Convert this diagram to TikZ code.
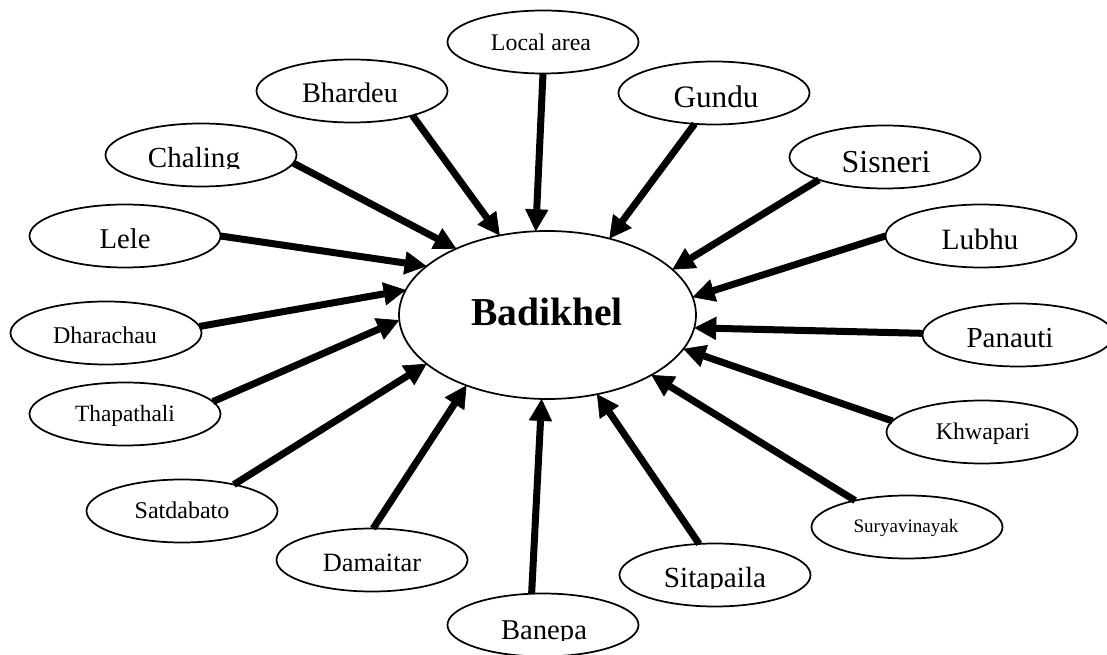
\documentclass[tikz,border=0pt]{standalone}
\usepackage{fontspec}
\setmainfont{Liberation Serif}
\usetikzlibrary{shapes.geometric,arrows.meta}

\newcommand{\fs}[1]{\fontsize{#1}{#1}\selectfont}

\begin{document}
\begin{tikzpicture}[x=0.75pt,y=-0.75pt,
  place/.style={ellipse, draw, line width=1.3pt, minimum width=143.25pt,
    minimum height=47.25pt, inner sep=0pt, outer sep=0pt},
  hub/.style={ellipse, draw, line width=1.3pt, minimum width=222.75pt,
    minimum height=126pt, inner sep=0pt, outer sep=0pt},
  lbl/.style={anchor=base, inner sep=0pt, outer sep=0pt},
  flow/.style={line width=5.25pt,
    -{Triangle[length=16.5pt,width=17.5pt,line width=0.5pt]}}
]
\useasboundingbox (0,0) rectangle (1107,655);
\clip (0,0) rectangle (1107,655);

% central place
\node[hub] (hub) at (547.5,315) {};
\node[lbl, font=\fs{29.7}\bfseries] (hub-t) at (547,326) {Badikhel};

% surrounding places
\node[place] (la) at (543,42)  {};
\node[place] (bh) at (352,91)  {};
\node[place] (gu) at (714,93)  {};
\node[place] (ch) at (201,155) {};
\node[place] (si) at (885,157) {};
\node[place] (le) at (125,236) {};
\node[place] (lu) at (981,236) {};
\node[place] (dh) at (106,333) {};
\node[place] (pa) at (1018,335) {};
\node[place] (th) at (125,414) {};
\node[place] (kh) at (982,432) {};
\node[place] (sa) at (182,511) {};
\node[place] (su) at (907,527) {};
\node[place] (da) at (372,560) {};
\node[place] (sp) at (715,575) {};
\node[place] (ba) at (543,625) {};

% place names
\node[lbl, font=\fs{17.9}] (la-t) at (541,51)  {Local area};
\node[lbl, font=\fs{21.2}] (bh-t) at (350,103) {Bhardeu};
\node[lbl, font=\fs{23.4}] (gu-t) at (716,108) {Gundu};
\begin{scope}
  \clip (120,130) rectangle (280,169);
  \node[lbl, font=\fs{21.8}] (ch-t) at (194,168) {Chaling};
\end{scope}
\node[lbl, font=\fs{24}]   (si-t) at (886,173) {Sisneri};
\node[lbl, font=\fs{21.5}] (le-t) at (125,249) {Lele};
\node[lbl, font=\fs{22.1}] (lu-t) at (980,250) {Lubhu};
\node[lbl, font=\fs{18}]   (dh-t) at (105,344) {Dharachau};
\node[lbl, font=\fs{21.75}] (pa-t) at (1010,348) {Panauti};
\node[lbl, font=\fs{17.5}] (th-t) at (125,422) {Thapathali};
\node[lbl, font=\fs{17.9}] (kh-t) at (983,440) {Khwapari};
\node[lbl, font=\fs{18}]   (sa-t) at (182,519) {Satdabato};
\node[lbl, font=\fs{14.3}] (su-t) at (906,533) {Suryavinayak};
\node[lbl, font=\fs{19.8}] (da-t) at (372,571) {Damaitar};
\begin{scope}
  \clip (640,550) rectangle (790,589);
  \node[lbl, font=\fs{21.9}] (sp-t) at (715,588) {Sitapaila};
\end{scope}
\begin{scope}
  \clip (470,600) rectangle (620,640);
  \node[lbl, font=\fs{21.5}] (ba-t) at (544,639) {Banepa};
\end{scope}

% flows into the centre
\draw[flow] (la.270) -- (hub.98);
\draw[flow] (bh.338) -- (hub.121);
\draw[flow] (ch.355) -- (hub.144);
\draw[flow] (le.0)   -- (hub.158);
\draw[flow] (dh.4)   -- (hub.170);
\draw[flow] (th.8)   -- (hub.182);
\draw[flow] (sa.27)  -- (hub.202);
\draw[flow] (da.88)  -- (hub.221);
\draw[flow] (ba.110) -- (hub.266);
\draw[flow] (sp.117) -- (hub.302);
\draw[flow] (su.153) -- (hub.330);
\draw[flow] (kh.173) -- (hub.346);
\draw[flow] (pa.179) -- (hub.355);
\draw[flow] (lu.180) -- (hub.7);
\draw[flow] (si.199) -- (hub.20);
\draw[flow] (gu.238) -- (hub.51);
\end{tikzpicture}
\end{document}
